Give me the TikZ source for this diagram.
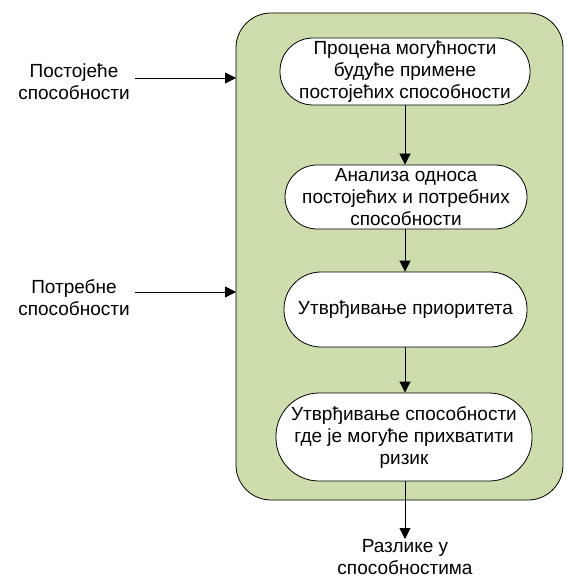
\documentclass[tikz,border=0pt]{standalone}
\usepackage{fontspec}
\setmainfont{Liberation Sans}
\usetikzlibrary{arrows.meta}
\definecolor{panelgreen}{RGB}{205,221,171}
\begin{document}
\begin{tikzpicture}[x=1pt,y=-1pt,
  every node/.style={font=\fontsize{19}{22}\selectfont, align=center},
  stepbox/.style={draw=black, line width=0.8pt, fill=white, inner sep=0pt},
  flow/.style={draw=black, line width=0.8pt, -{Triangle[length=11pt,width=11pt]}},
  plain/.style={inner sep=0pt}
]
\useasboundingbox (0,0) rectangle (566,577);

% process panel
\draw[line width=0.8pt, fill=panelgreen, rounded corners=35pt] (236,13) rectangle (563,500);

% process steps (pill shapes: corner radius is half the height)
\node[stepbox, minimum width=250pt, minimum height=67pt, rounded corners=33pt] (s1) at (405,71.5)
  {Процена могућности\\будуће примене\\постојећих способности};
\node[stepbox, minimum width=242pt, minimum height=64pt, rounded corners=32pt] (s2) at (406,197)
  {Анализа односа\\постојећих и потребних\\способности};
\node[stepbox, minimum width=243pt, minimum height=75pt, rounded corners=37pt] (s3) at (405.5,309.5)
  {Утврђивање приоритета};
\node[stepbox, minimum width=256pt, minimum height=88pt, rounded corners=43pt] (s4) at (404,437)
  {Утврђивање способности\\где је могуће прихватити\\ризик};

% inputs and output
\node[plain] (in1) at (74,82) {Постојеће\\способности};
\node[plain] (in2) at (74,298) {Потребне\\способности};
\node[plain, anchor=north] (out) at (405,539) {Разлике у\\способностима};

\coordinate (a1) at (135,78);
\coordinate (b1) at (236,78);
\coordinate (a2) at (135,292);
\coordinate (b2) at (236,292);

\draw[flow] (a1) -- (b1);
\draw[flow] (a2) -- (b2);
\draw[flow] (s1.south -| 405,0) -- (s2.north -| 405,0);
\draw[flow] (s2.south -| 405,0) -- (s3.north -| 405,0);
\draw[flow] (s3.south -| 405,0) -- (s4.north -| 405,0);
\draw[flow] (s4.south -| 405,0) -- (out.north);
\end{tikzpicture}
\end{document}
